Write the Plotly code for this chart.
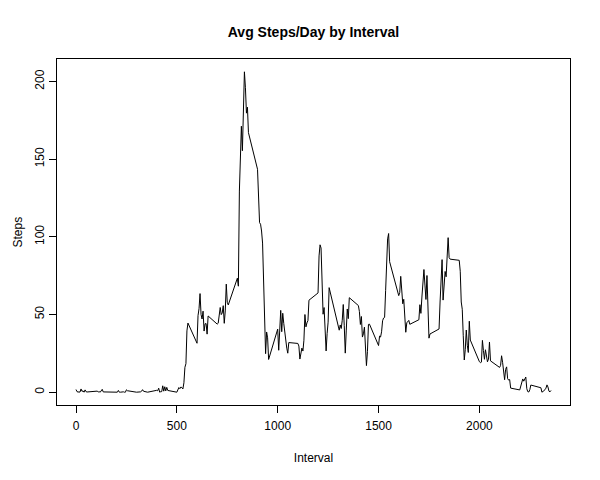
import plotly.graph_objects as go

# 5-minute interval identifiers (HHMM)
interval = [
    0, 5, 10, 15, 20, 25, 30, 35, 40, 45, 50, 55,
    100, 105, 110, 115, 120, 125, 130, 135, 140, 145, 150, 155,
    200, 205, 210, 215, 220, 225, 230, 235, 240, 245, 250, 255,
    300, 305, 310, 315, 320, 325, 330, 335, 340, 345, 350, 355,
    400, 405, 410, 415, 420, 425, 430, 435, 440, 445, 450, 455,
    500, 505, 510, 515, 520, 525, 530, 535, 540, 545, 550, 555,
    600, 605, 610, 615, 620, 625, 630, 635, 640, 645, 650, 655,
    700, 705, 710, 715, 720, 725, 730, 735, 740, 745, 750, 755,
    800, 805, 810, 815, 820, 825, 830, 835, 840, 845, 850, 855,
    900, 905, 910, 915, 920, 925, 930, 935, 940, 945, 950, 955,
    1000, 1005, 1010, 1015, 1020, 1025, 1030, 1035, 1040, 1045, 1050, 1055,
    1100, 1105, 1110, 1115, 1120, 1125, 1130, 1135, 1140, 1145, 1150, 1155,
    1200, 1205, 1210, 1215, 1220, 1225, 1230, 1235, 1240, 1245, 1250, 1255,
    1300, 1305, 1310, 1315, 1320, 1325, 1330, 1335, 1340, 1345, 1350, 1355,
    1400, 1405, 1410, 1415, 1420, 1425, 1430, 1435, 1440, 1445, 1450, 1455,
    1500, 1505, 1510, 1515, 1520, 1525, 1530, 1535, 1540, 1545, 1550, 1555,
    1600, 1605, 1610, 1615, 1620, 1625, 1630, 1635, 1640, 1645, 1650, 1655,
    1700, 1705, 1710, 1715, 1720, 1725, 1730, 1735, 1740, 1745, 1750, 1755,
    1800, 1805, 1810, 1815, 1820, 1825, 1830, 1835, 1840, 1845, 1850, 1855,
    1900, 1905, 1910, 1915, 1920, 1925, 1930, 1935, 1940, 1945, 1950, 1955,
    2000, 2005, 2010, 2015, 2020, 2025, 2030, 2035, 2040, 2045, 2050, 2055,
    2100, 2105, 2110, 2115, 2120, 2125, 2130, 2135, 2140, 2145, 2150, 2155,
    2200, 2205, 2210, 2215, 2220, 2225, 2230, 2235, 2240, 2245, 2250, 2255,
    2300, 2305, 2310, 2315, 2320, 2325, 2330, 2335, 2340, 2345, 2350, 2355,
]

# average steps per interval
steps = [
    1.72, 0.34, 0.13, 0.15, 0.08, 2.09, 0.53, 0.87, 0.00, 1.47, 0.30, 0.13,
    0.32, 0.68, 0.15, 0.34, 0.00, 1.11, 1.83, 0.17, 0.17, 0.38, 0.26, 0.00,
    0.00, 0.00, 1.13, 0.00, 0.00, 0.13, 0.00, 0.23, 0.00, 0.00, 1.55, 0.94,
    0.00, 0.00, 0.00, 0.00, 0.21, 0.62, 1.62, 0.58, 0.49, 0.08, 0.00, 0.00,
    1.19, 0.94, 2.57, 0.00, 0.34, 0.36, 4.11, 0.66, 3.49, 0.83, 3.11, 1.11,
    0.00, 1.57, 3.00, 2.25, 3.32, 2.96, 2.09, 6.06, 16.02, 18.34, 39.45, 44.49,
    31.49, 49.26, 53.77, 63.45, 49.96, 47.08, 52.15, 39.34, 44.02, 44.17, 37.36, 49.04,
    43.81, 44.38, 50.51, 54.51, 49.92, 50.98, 55.68, 44.32, 52.26, 69.55, 57.85, 56.15,
    73.38, 68.21, 129.43, 157.53, 171.15, 155.40, 177.30, 206.17, 195.92, 179.57, 183.40, 167.02,
    143.45, 124.04, 109.11, 108.11, 103.72, 95.96, 66.21, 45.23, 24.79, 38.75, 34.98, 21.06,
    40.57, 26.98, 42.42, 52.66, 38.92, 50.79, 44.28, 37.42, 34.70, 28.34, 25.09, 31.94,
    31.36, 29.68, 21.32, 25.55, 28.38, 26.47, 33.43, 49.98, 42.04, 44.60, 46.04, 59.19,
    63.87, 87.70, 94.85, 92.77, 63.40, 50.17, 54.47, 32.42, 26.53, 37.74, 45.06, 67.28,
    42.34, 39.89, 43.26, 40.98, 46.25, 56.43, 42.75, 25.13, 39.96, 53.55, 47.32, 60.81,
    55.75, 51.96, 43.58, 48.70, 35.47, 37.55, 41.85, 27.51, 17.11, 26.08, 43.62, 43.77,
    30.02, 36.08, 35.49, 38.85, 45.96, 47.75, 48.13, 65.32, 82.91, 98.66, 102.11, 83.96,
    62.13, 64.13, 74.55, 63.17, 56.91, 59.77, 43.87, 38.57, 44.66, 45.45, 46.21, 43.68,
    46.62, 56.30, 50.72, 61.23, 72.72, 78.94, 68.94, 59.66, 75.09, 56.51, 34.77, 37.45,
    40.68, 58.02, 74.70, 85.32, 59.26, 67.77, 77.70, 74.25, 85.34, 99.45, 86.58, 85.60,
    84.87, 77.83, 58.04, 53.36, 36.32, 20.72, 27.40, 40.02, 30.21, 25.55, 45.66, 33.53,
    19.62, 19.02, 19.34, 33.34, 26.81, 21.17, 27.30, 21.34, 19.55, 21.32, 32.30, 20.15,
    15.94, 17.23, 23.45, 19.25, 12.45, 8.02, 14.66, 16.30, 8.68, 7.79, 8.13, 2.62,
    1.45, 3.68, 4.81, 8.51, 7.08, 8.70, 9.75, 2.21, 0.32, 0.11, 1.60, 4.60,
    3.30, 2.85, 0.00, 0.83, 0.96, 1.58, 2.60, 4.70, 3.30, 0.64, 0.23, 1.08,
]

fig = go.Figure()
fig.add_trace(go.Scatter(x=interval, y=steps, mode="lines",
                         line=dict(color="black", width=1), showlegend=False))

# R-style 4% padding around the data
xpad = (max(interval) - min(interval)) * 0.04
ypad = (max(steps) - min(steps)) * 0.04

axis_style = dict(showgrid=False, zeroline=False, showline=True, mirror=True,
                  linecolor="black", linewidth=1, ticks="outside", ticklen=7,
                  tickcolor="black", tickfont=dict(size=12, color="black"),
                  automargin=False)

fig.update_xaxes(range=[min(interval) - xpad, max(interval) + xpad],
                 tickvals=[0, 500, 1000, 1500, 2000], ticklabelstandoff=3,
                 title=dict(text="Interval", font=dict(size=12, color="black"), standoff=21),
                 **axis_style)
fig.update_yaxes(range=[min(steps) - ypad, max(steps) + ypad],
                 tickvals=[0, 50, 100, 150, 200], tickangle=-90,
                 **axis_style)

# y label as an annotation, kept just inside the figure's left edge
fig.add_annotation(text="Steps", textangle=-90, showarrow=False,
                   xref="paper", yref="paper", x=-0.0945, y=0.5,
                   xanchor="left", yanchor="middle",
                   font=dict(size=12, color="black"))

# the page puts the figure 8px in from the top-left corner, so margins compensate
fig.update_layout(
    width=600, height=480,
    margin=dict(l=49, r=38, t=51, b=83),
    paper_bgcolor="white", plot_bgcolor="white",
    font=dict(family="Liberation Sans, Arial, sans-serif", color="black"),
    title=dict(text="<b>Avg Steps/Day by Interval</b>", x=0.5, xref="paper",
               y=0.95, yanchor="middle", font=dict(size=14, color="black")),
)

fig.write_html("out.html")
